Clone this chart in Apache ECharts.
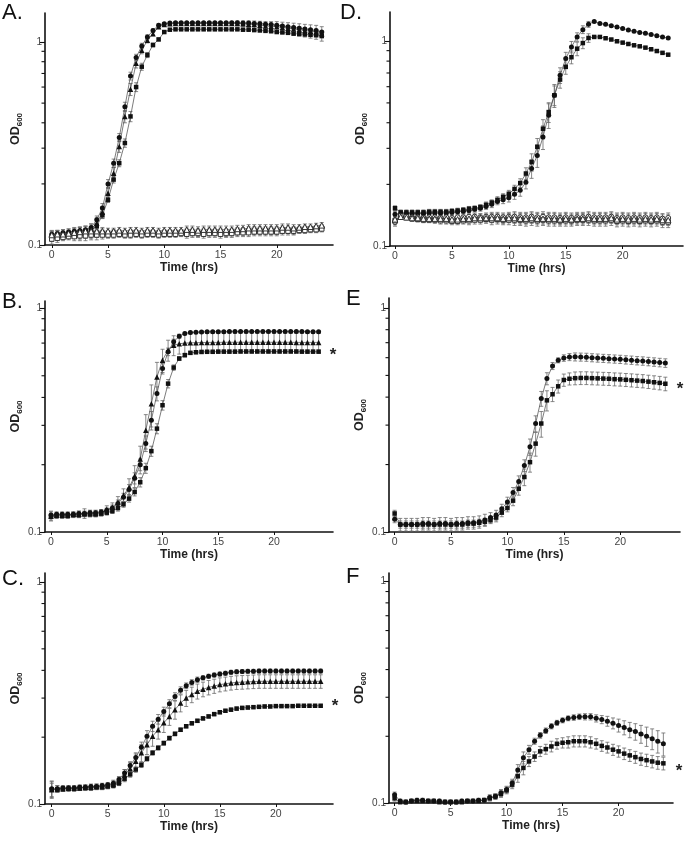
<!DOCTYPE html>
<html><head><meta charset="utf-8">
<script src="https://cdn.jsdelivr.net/npm/echarts@6/dist/echarts.min.js"></script>
<style>html,body{margin:0;padding:0;background:#fff}#c{width:685px;height:843px}</style>
</head><body><div id="c"></div>
<script>
// ---------------- DATA ----------------
const times = [0,0.5,1,1.5,2,2.5,3,3.5,4,4.5, 5,5.5,6,6.5,7,7.5,8,8.5,9,9.5, 10,10.5,11,11.5,12,12.5,13,13.5,14,14.5, 15,15.5,16,16.5,17,17.5,18,18.5,19,19.5, 20,20.5,21,21.5,22,22.5,23,23.5,24];
const xTickValues = [0,5,10,15,20];
const yLabelValues = [0.1,1];
const yMinorValues = [0.2,0.3,0.4,0.5,0.6,0.7,0.8,0.9];

// Panel A
const A_circ = [0.113,0.114,0.115,0.116,0.117,0.118,0.119,0.122,0.133,0.152, 0.200,0.253,0.339,0.480,0.680,0.840,0.956,1.06,1.14,1.21, 1.23,1.24,1.245,1.245,1.245,1.245,1.245,1.245,1.245,1.245, 1.245,1.245,1.245,1.245,1.24,1.24,1.235,1.23,1.225,1.22, 1.21,1.20,1.19,1.18,1.17,1.16,1.15,1.14,1.12];
const A_tri = [0.112,0.113,0.114,0.115,0.116,0.117,0.118,0.120,0.128,0.145, 0.180,0.226,0.306,0.430,0.585,0.785,0.910,1.02,1.10,1.19, 1.22,1.23,1.235,1.235,1.235,1.235,1.235,1.235,1.235,1.235, 1.235,1.235,1.235,1.235,1.23,1.225,1.22,1.21,1.20,1.195, 1.19,1.18,1.17,1.16,1.15,1.14,1.13,1.12,1.10];
const A_sq = [0.110,0.111,0.112,0.113,0.114,0.115,0.116,0.118,0.124,0.140, 0.167,0.210,0.253,0.318,0.430,0.600,0.756,0.863,0.967,1.03, 1.12,1.15,1.155,1.155,1.155,1.155,1.155,1.155,1.155,1.155, 1.155,1.155,1.155,1.155,1.15,1.15,1.145,1.14,1.135,1.13, 1.12,1.115,1.11,1.10,1.095,1.09,1.085,1.08,1.07];
const A_ocirc = [0.110,0.111,0.111,0.112,0.113,0.113,0.114,0.114,0.115,0.115, 0.114,0.115,0.115,0.114,0.115,0.115,0.114,0.115,0.115,0.114, 0.115,0.115,0.115,0.115,0.116,0.116,0.115,0.116,0.116,0.116, 0.116,0.115,0.116,0.117,0.117,0.118,0.118,0.118,0.118,0.118, 0.118,0.119,0.119,0.118,0.119,0.120,0.120,0.121,0.122];
const A_osq = [0.107,0.108,0.109,0.110,0.110,0.111,0.111,0.112,0.112,0.112, 0.112,0.112,0.113,0.112,0.112,0.113,0.112,0.113,0.113,0.112, 0.113,0.113,0.113,0.114,0.113,0.114,0.114,0.113,0.114,0.114, 0.113,0.114,0.114,0.115,0.115,0.115,0.116,0.116,0.116,0.116, 0.116,0.117,0.117,0.117,0.118,0.118,0.119,0.119,0.120];
const A_otri = [0.112,0.113,0.113,0.114,0.115,0.116,0.117,0.117,0.117,0.117, 0.117,0.117,0.118,0.117,0.118,0.118,0.117,0.118,0.118,0.117, 0.118,0.118,0.118,0.118,0.119,0.119,0.118,0.119,0.119,0.119, 0.119,0.119,0.119,0.120,0.120,0.121,0.121,0.121,0.121,0.121, 0.121,0.122,0.122,0.121,0.122,0.123,0.123,0.124,0.125];
const A_circ_err = [0.004,0.004,0.004,0.004,0.004,0.004,0.005,0.005,0.006,0.008, 0.010,0.012,0.015,0.025,0.030,0.030,0.030,0.025,0.020,0.020, 0.015,0.015,0.015,0.015,0.015,0.015,0.015,0.015,0.015,0.015, 0.015,0.015,0.015,0.015,0.015,0.015,0.015,0.015,0.015,0.015, 0.015,0.015,0.015,0.015,0.015,0.015,0.015,0.015,0.015];
const A_tri_err = [0.005,0.005,0.005,0.005,0.006,0.006,0.006,0.007,0.008,0.010, 0.012,0.015,0.020,0.030,0.040,0.040,0.035,0.030,0.025,0.020, 0.020,0.020,0.020,0.020,0.020,0.020,0.020,0.020,0.020,0.020, 0.020,0.025,0.030,0.035,0.040,0.045,0.050,0.055,0.060,0.065, 0.070,0.072,0.075,0.078,0.080,0.082,0.085,0.088,0.090];
const A_sq_err = [0.004,0.004,0.004,0.004,0.004,0.004,0.004,0.004,0.004,0.005, 0.005,0.008,0.010,0.015,0.025,0.030,0.030,0.025,0.020,0.015, 0.012,0.012,0.012,0.012,0.012,0.012,0.012,0.012,0.012,0.012, 0.012,0.012,0.012,0.012,0.012,0.012,0.012,0.012,0.012,0.012, 0.012,0.012,0.012,0.012,0.015,0.015,0.015,0.015,0.015];
const A_open_err = [0.006,0.005,0.004,0.004,0.005,0.006,0.006,0.006,0.006,0.005, 0.004,0.004,0.004,0.004,0.004,0.004,0.004,0.004,0.004,0.004, 0.004,0.004,0.004,0.004,0.005,0.005,0.005,0.005,0.005,0.005, 0.005,0.005,0.005,0.005,0.005,0.005,0.005,0.005,0.005,0.005, 0.005,0.005,0.005,0.005,0.004,0.004,0.004,0.004,0.004];

// Panel D
const D_circ = [0.143,0.144,0.144,0.144,0.144,0.144,0.145,0.145,0.145,0.145, 0.146,0.147,0.148,0.149,0.151,0.153,0.156,0.160,0.165,0.168, 0.172,0.179,0.187,0.205,0.239,0.277,0.341,0.435,0.545,0.682, 0.823,0.938,1.05,1.14,1.21,1.25,1.22,1.21,1.19,1.175, 1.153,1.135,1.12,1.105,1.095,1.08,1.065,1.05,1.038];
const D_sq = [0.153,0.146,0.146,0.146,0.146,0.146,0.147,0.147,0.147,0.147, 0.148,0.149,0.150,0.152,0.153,0.155,0.159,0.163,0.168,0.174, 0.180,0.190,0.203,0.226,0.257,0.305,0.374,0.451,0.545,0.650, 0.750,0.836,0.920,0.980,1.038,1.05,1.05,1.035,1.02,1.00, 0.985,0.97,0.956,0.945,0.931,0.914,0.896,0.878,0.86];
const D_ocirc = [0.131,0.139,0.139,0.138,0.138,0.137,0.138,0.138,0.137,0.138, 0.137,0.138,0.138,0.139,0.139,0.138,0.139,0.139,0.139,0.138, 0.139,0.139,0.138,0.138,0.139,0.138,0.139,0.138,0.138,0.137, 0.138,0.137,0.138,0.138,0.139,0.138,0.138,0.138,0.139,0.137, 0.138,0.137,0.138,0.137,0.138,0.137,0.138,0.136,0.137];
const D_osq = [0.133,0.140,0.139,0.136,0.135,0.134,0.134,0.134,0.133,0.133, 0.132,0.132,0.133,0.133,0.134,0.134,0.135,0.134,0.135,0.134, 0.134,0.134,0.134,0.133,0.134,0.133,0.134,0.133,0.133,0.133, 0.133,0.133,0.134,0.134,0.134,0.133,0.133,0.133,0.134,0.132, 0.133,0.132,0.133,0.132,0.133,0.132,0.133,0.131,0.131];
const D_otri = [0.135,0.139,0.138,0.137,0.137,0.136,0.136,0.136,0.136,0.136, 0.135,0.135,0.136,0.136,0.137,0.137,0.137,0.137,0.137,0.136, 0.137,0.137,0.136,0.136,0.137,0.136,0.136,0.136,0.136,0.135, 0.136,0.135,0.136,0.136,0.137,0.136,0.136,0.136,0.137,0.135, 0.136,0.135,0.136,0.135,0.136,0.135,0.136,0.134,0.134];
const D_circ_err = [0.004,0.004,0.004,0.004,0.004,0.004,0.004,0.004,0.004,0.004, 0.004,0.004,0.004,0.004,0.004,0.005,0.005,0.006,0.006,0.007, 0.008,0.010,0.012,0.015,0.025,0.035,0.045,0.060,0.070,0.060, 0.060,0.060,0.050,0.050,0.040,0.010,0.008,0.008,0.008,0.008, 0.008,0.008,0.008,0.008,0.008,0.008,0.008,0.008,0.008];
const D_sq_err = [0.004,0.004,0.004,0.004,0.004,0.004,0.004,0.004,0.004,0.004, 0.004,0.004,0.004,0.004,0.004,0.004,0.005,0.005,0.006,0.006, 0.007,0.008,0.010,0.015,0.025,0.030,0.040,0.050,0.060,0.060, 0.060,0.060,0.070,0.060,0.050,0.010,0.008,0.008,0.008,0.008, 0.008,0.008,0.008,0.008,0.008,0.008,0.008,0.008,0.008];
const D_open_err = [0.006,0.004,0.004,0.004,0.004,0.004,0.004,0.005,0.005,0.005, 0.005,0.005,0.005,0.006,0.006,0.006,0.006,0.007,0.007,0.007, 0.007,0.008,0.008,0.008,0.008,0.008,0.008,0.008,0.008,0.008, 0.008,0.008,0.008,0.008,0.008,0.008,0.008,0.008,0.008,0.008, 0.008,0.008,0.008,0.008,0.008,0.008,0.008,0.008,0.008];

// Panel B
const B_circ = [0.119,0.120,0.120,0.120,0.120,0.121,0.121,0.122,0.122,0.123, 0.125,0.128,0.134,0.143,0.155,0.174,0.200,0.249,0.316,0.416, 0.539,0.640,0.709,0.752,0.773,0.780,0.783,0.785,0.786,0.787, 0.787,0.787,0.788,0.788,0.788,0.788,0.788,0.789,0.789,0.789, 0.789,0.789,0.789,0.788,0.788,0.788,0.787,0.787,0.786];
const B_tri = [0.118,0.119,0.119,0.119,0.120,0.120,0.121,0.121,0.121,0.122, 0.126,0.129,0.136,0.146,0.158,0.178,0.212,0.285,0.375,0.494, 0.587,0.651,0.685,0.695,0.700,0.702,0.703,0.704,0.705,0.705, 0.705,0.706,0.706,0.706,0.706,0.706,0.706,0.706,0.706,0.706, 0.706,0.706,0.706,0.706,0.705,0.705,0.705,0.705,0.705];
const B_sq = [0.117,0.118,0.118,0.118,0.119,0.119,0.120,0.120,0.120,0.121, 0.122,0.124,0.128,0.133,0.141,0.151,0.167,0.193,0.230,0.290, 0.369,0.461,0.544,0.597,0.618,0.633,0.637,0.639,0.640,0.640, 0.641,0.641,0.641,0.641,0.642,0.642,0.642,0.642,0.642,0.642, 0.642,0.642,0.642,0.642,0.642,0.641,0.641,0.641,0.641];
const B_circ_err = [0.004,0.003,0.003,0.003,0.003,0.003,0.003,0.003,0.003,0.003, 0.003,0.004,0.005,0.006,0.008,0.010,0.012,0.020,0.030,0.030, 0.030,0.025,0.020,0.015,0.010,0.010,0.008,0.008,0.008,0.008, 0.008,0.008,0.008,0.008,0.008,0.008,0.008,0.008,0.008,0.008, 0.008,0.008,0.008,0.008,0.008,0.008,0.008,0.008,0.008];
const B_tri_err = [0.006,0.003,0.003,0.003,0.003,0.004,0.006,0.004,0.004,0.004, 0.005,0.006,0.008,0.010,0.015,0.020,0.030,0.050,0.080,0.080, 0.070,0.070,0.070,0.070,0.070,0.070,0.070,0.070,0.070,0.070, 0.070,0.070,0.070,0.070,0.070,0.070,0.070,0.070,0.070,0.070, 0.070,0.070,0.070,0.070,0.070,0.070,0.070,0.070,0.070];
const B_sq_err = [0.004,0.003,0.003,0.003,0.003,0.003,0.003,0.003,0.003,0.003, 0.003,0.003,0.004,0.004,0.005,0.006,0.008,0.010,0.012,0.015, 0.018,0.020,0.015,0.012,0.010,0.010,0.010,0.010,0.010,0.010, 0.010,0.010,0.010,0.010,0.010,0.010,0.010,0.010,0.010,0.010, 0.010,0.010,0.010,0.010,0.010,0.010,0.010,0.010,0.010];

// Panel E
const E_circ = [0.114,0.108,0.108,0.108,0.108,0.109,0.109,0.108,0.109,0.109, 0.108,0.109,0.109,0.110,0.110,0.111,0.113,0.116,0.119,0.127, 0.136,0.150,0.168,0.198,0.240,0.305,0.394,0.484,0.551,0.584, 0.598,0.604,0.605,0.604,0.603,0.600,0.598,0.596,0.594,0.592, 0.590,0.587,0.585,0.582,0.580,0.577,0.574,0.571,0.568];
const E_sq = [0.121,0.108,0.108,0.108,0.108,0.108,0.108,0.108,0.108,0.108, 0.108,0.108,0.108,0.109,0.109,0.110,0.111,0.113,0.116,0.122, 0.128,0.138,0.156,0.176,0.205,0.248,0.305,0.387,0.412,0.447, 0.477,0.483,0.486,0.487,0.487,0.486,0.485,0.484,0.483,0.481, 0.480,0.478,0.476,0.474,0.472,0.469,0.466,0.463,0.459];
const E_circ_err = [0.004,0.007,0.007,0.007,0.007,0.007,0.007,0.007,0.007,0.007, 0.007,0.007,0.007,0.007,0.007,0.007,0.007,0.006,0.006,0.006, 0.007,0.008,0.010,0.012,0.020,0.025,0.030,0.030,0.020,0.015, 0.020,0.022,0.025,0.025,0.025,0.025,0.025,0.025,0.025,0.025, 0.025,0.025,0.025,0.025,0.025,0.025,0.025,0.025,0.025];
const E_sq_err = [0.004,0.004,0.004,0.004,0.004,0.004,0.004,0.004,0.004,0.004, 0.004,0.004,0.004,0.004,0.004,0.004,0.004,0.004,0.005,0.005, 0.005,0.007,0.010,0.015,0.020,0.030,0.040,0.040,0.030,0.030, 0.030,0.030,0.032,0.032,0.032,0.032,0.032,0.032,0.032,0.032, 0.032,0.032,0.032,0.032,0.032,0.032,0.032,0.032,0.032];

// Panel C
const C_circ = [0.117,0.117,0.118,0.118,0.118,0.119,0.119,0.120,0.120,0.121, 0.122,0.124,0.129,0.138,0.149,0.162,0.180,0.202,0.224,0.241, 0.261,0.283,0.305,0.325,0.341,0.353,0.363,0.370,0.376,0.381, 0.385,0.388,0.392,0.394,0.395,0.396,0.396,0.397,0.397,0.397, 0.397,0.397,0.397,0.397,0.397,0.397,0.397,0.397,0.397];
const C_tri = [0.116,0.117,0.117,0.118,0.118,0.118,0.119,0.119,0.120,0.120, 0.121,0.123,0.127,0.135,0.144,0.156,0.170,0.185,0.202,0.216, 0.232,0.248,0.266,0.285,0.300,0.311,0.322,0.329,0.335,0.340, 0.345,0.348,0.351,0.353,0.354,0.355,0.356,0.357,0.357,0.357, 0.357,0.357,0.357,0.357,0.357,0.357,0.357,0.357,0.357];
const C_sq = [0.116,0.116,0.117,0.117,0.117,0.118,0.118,0.118,0.119,0.119, 0.120,0.121,0.124,0.130,0.136,0.143,0.150,0.160,0.170,0.179, 0.188,0.198,0.207,0.216,0.224,0.231,0.237,0.243,0.248,0.254, 0.259,0.263,0.266,0.269,0.271,0.272,0.273,0.274,0.275,0.275, 0.276,0.276,0.276,0.276,0.277,0.277,0.277,0.277,0.277];
const C_circ_err = [0.010,0.004,0.003,0.003,0.003,0.003,0.003,0.003,0.003,0.003, 0.003,0.004,0.004,0.005,0.006,0.008,0.010,0.012,0.012,0.012, 0.012,0.012,0.012,0.012,0.010,0.010,0.010,0.008,0.008,0.008, 0.008,0.008,0.008,0.008,0.008,0.008,0.008,0.008,0.008,0.008, 0.008,0.008,0.008,0.008,0.008,0.008,0.008,0.008,0.008];
const C_tri_err = [0.010,0.004,0.003,0.003,0.003,0.003,0.003,0.003,0.003,0.003, 0.003,0.004,0.005,0.008,0.010,0.012,0.015,0.018,0.020,0.020, 0.022,0.022,0.025,0.025,0.025,0.025,0.025,0.025,0.025,0.025, 0.025,0.025,0.025,0.025,0.025,0.025,0.025,0.025,0.025,0.025, 0.025,0.025,0.025,0.025,0.025,0.025,0.025,0.025,0.025];
const C_sq_err = [0.008,0.003,0.003,0.003,0.003,0.003,0.003,0.003,0.003,0.003, 0.003,0.003,0.003,0.004,0.004,0.004,0.004,0.004,0.004,0.004, 0.004,0.004,0.004,0.004,0.004,0.004,0.004,0.004,0.004,0.004, 0.004,0.004,0.004,0.004,0.004,0.004,0.004,0.004,0.004,0.004, 0.004,0.004,0.004,0.004,0.004,0.004,0.004,0.004,0.004];

// Panel F
const F_circ = [0.109,0.102,0.101,0.102,0.103,0.103,0.102,0.102,0.102,0.101, 0.101,0.101,0.102,0.102,0.102,0.103,0.103,0.106,0.107,0.111, 0.115,0.123,0.141,0.160,0.174,0.190,0.202,0.212,0.222,0.230, 0.236,0.241,0.243,0.245,0.245,0.245,0.241,0.238,0.234,0.229, 0.224,0.219,0.214,0.210,0.205,0.200,0.195,0.190,0.185];
const F_sq = [0.105,0.101,0.101,0.102,0.102,0.102,0.102,0.102,0.101,0.101, 0.101,0.101,0.101,0.102,0.102,0.102,0.103,0.105,0.107,0.110, 0.114,0.121,0.132,0.144,0.154,0.162,0.171,0.175,0.180,0.185, 0.187,0.188,0.190,0.190,0.190,0.188,0.185,0.181,0.178,0.174, 0.171,0.167,0.164,0.161,0.158,0.156,0.154,0.152,0.151];
const F_circ_err = [0.003,0.002,0.002,0.002,0.002,0.002,0.002,0.002,0.002,0.002, 0.002,0.002,0.002,0.002,0.002,0.002,0.002,0.003,0.003,0.004, 0.004,0.005,0.008,0.010,0.008,0.006,0.006,0.006,0.006,0.006, 0.006,0.006,0.007,0.007,0.008,0.008,0.009,0.010,0.012,0.013, 0.015,0.016,0.017,0.018,0.019,0.020,0.021,0.022,0.022];
const F_sq_err = [0.003,0.002,0.002,0.002,0.002,0.002,0.002,0.002,0.002,0.002, 0.002,0.002,0.002,0.002,0.002,0.002,0.002,0.003,0.003,0.004, 0.004,0.005,0.008,0.010,0.008,0.008,0.009,0.009,0.010,0.010, 0.010,0.011,0.011,0.011,0.011,0.011,0.010,0.010,0.010,0.010, 0.010,0.010,0.010,0.010,0.010,0.010,0.010,0.010,0.010];

// ---------------- LAYOUT ----------------
const FONT = '"Liberation Sans", Arial, sans-serif';
const panels = [
  {label:'A.', lx:2, ly:13, left:45, top:13, width:288, height:232, xMin:-0.6, xMax:25, yMax:1.39, star:null,
   series:[[A_circ,A_circ_err,'circle',false],[A_tri,A_tri_err,'triangle',false],[A_sq,A_sq_err,'rect',false],
           [A_ocirc,A_open_err,'circle',true],[A_osq,A_open_err,'rect',true],[A_otri,A_open_err,'triangle',true]]},
  {label:'D.', lx:340, ly:13, left:390, top:12, width:293, height:234, xMin:-0.44, xMax:25.3, yMax:1.39, star:null,
   series:[[D_circ,D_circ_err,'circle',false],[D_sq,D_sq_err,'rect',false],
           [D_ocirc,D_open_err,'circle',true],[D_osq,D_open_err,'rect',true],[D_otri,D_open_err,'triangle',true]]},
  {label:'B.', lx:2, ly:302, left:45, top:301, width:288, height:231, xMin:-0.54, xMax:25.29, yMax:1.08, star:[333,355],
   series:[[B_circ,B_circ_err,'circle',false],[B_tri,B_tri_err,'triangle',false],[B_sq,B_sq_err,'rect',false]]},
  {label:'E', lx:346, ly:299, left:389, top:298, width:291, height:234, xMin:-0.5, xMax:25.3, yMax:1.108, star:[680,389],
   series:[[E_circ,E_circ_err,'circle',false],[E_sq,E_sq_err,'rect',false]]},
  {label:'C.', lx:2, ly:579, left:45, top:573, width:288, height:231, xMin:-0.6, xMax:25.1, yMax:1.098, star:[335,706],
   series:[[C_circ,C_circ_err,'circle',false],[C_tri,C_tri_err,'triangle',false],[C_sq,C_sq_err,'rect',false]]},
  {label:'F', lx:346, ly:577, left:389, top:573, width:284, height:230, xMin:-0.5, xMax:24.86, yMax:1.091, star:[679,771],
   series:[[F_circ,F_circ_err,'circle',false],[F_sq,F_sq_err,'rect',false]]}
];

function errRender(params, api) {
  const x = api.value(0), lo = api.value(1), hi = api.value(2);
  const t = api.coord([x, hi]), b = api.coord([x, lo]);
  const cw = 2;
  const st = {stroke:'#6a6a6a', lineWidth:0.8};
  return {type:'group', children:[
    {type:'line', shape:{x1:t[0], y1:t[1], x2:b[0], y2:b[1]}, style:st},
    {type:'line', shape:{x1:t[0]-cw, y1:t[1], x2:t[0]+cw, y2:t[1]}, style:st},
    {type:'line', shape:{x1:b[0]-cw, y1:b[1], x2:b[0]+cw, y2:b[1]}, style:st}
  ]};
}

const grids = [], xAxes = [], yAxes = [], series = [], graphics = [];
panels.forEach((p, gi) => {
  grids.push({left:p.left, top:p.top, width:p.width, height:p.height, containLabel:false});
  xAxes.push({
    type:'value', gridIndex:gi, min:p.xMin, max:p.xMax,
    name:'Time (hrs)', nameLocation:'middle', nameGap:17,
    nameTextStyle:{fontFamily:FONT, fontSize:12, fontWeight:'bold', color:'#222'},
    axisLine:{show:true, onZero:false, lineStyle:{color:'#111', width:1.6}},
    axisTick:{show:true, length:3, customValues:xTickValues, lineStyle:{color:'#111', width:1}},
    axisLabel:{customValues:xTickValues, fontFamily:FONT, fontSize:10.5, color:'#444', margin:5},
    splitLine:{show:false}
  });
  yAxes.push({
    type:'log', logBase:10, gridIndex:gi, position:'left', min:0.1, max:p.yMax,
    name:'{a|OD}{b|600}', nameLocation:'middle', nameGap:21, nameRotate:90,
    nameTextStyle:{rich:{
      a:{fontFamily:FONT, fontSize:12.5, fontWeight:'bold', color:'#222', verticalAlign:'bottom', padding:[0,0,2,0]},
      b:{fontFamily:FONT, fontSize:8, fontWeight:'bold', color:'#222', verticalAlign:'bottom'}
    }},
    axisLine:{show:true, onZero:false, lineStyle:{color:'#111', width:1.6}},
    axisTick:{show:true, length:5, customValues:yLabelValues, lineStyle:{color:'#111', width:1.1}},
    axisLabel:{customValues:yLabelValues, fontFamily:FONT, fontSize:10, color:'#444', margin:3,
      formatter:v => (v < 0.5 ? '0.1' : '1')},
    splitLine:{show:false}
  });
  p.series.forEach(([vals, errs]) => {
    series.push({
      type:'custom', xAxisIndex:gi, yAxisIndex:gi, renderItem:errRender, silent:true, z:2,
      encode:{x:0, y:[1,2]},
      data:times.map((t,i)=>[t, vals[i]-errs[i], vals[i]+errs[i]])
    });
  });
  p.series.forEach(([vals, errs, sym, open]) => {
    series.push({
      type:'line', xAxisIndex:gi, yAxisIndex:gi, z:3, silent:true,
      data:times.map((t,i)=>[t, vals[i]]),
      symbol:sym, symbolSize: sym==='triangle' ? 5.5 : (sym==='rect' ? 4.5 : 5),
      showSymbol:true,
      lineStyle:{color:'#444', width:0.7},
      itemStyle: open ? {color:'#fff', borderColor:'#222', borderWidth:0.9} : {color:'#111', borderWidth:0},
      emphasis:{disabled:true}
    });
  });
  graphics.push({type:'text', x:p.lx, y:p.ly, silent:true,
    style:{text:p.label, font:'22px ' + FONT, fill:'#111', textVerticalAlign:'middle', textAlign:'left'}});
  if (p.star) graphics.push({type:'text', x:p.star[0], y:p.star[1], silent:true,
    style:{text:'*', font:'bold 17px ' + FONT, fill:'#222', textVerticalAlign:'middle', textAlign:'center'}});
});

const chart = echarts.init(document.getElementById('c'), null, {renderer:'canvas'});
chart.setOption({
  animation:false,
  backgroundColor:'#fff',
  grid:grids, xAxis:xAxes, yAxis:yAxes, series:series, graphic:graphics
});

// minor ticks 0.2 ... 0.9: vertical position from each panel's log y axis scale
panels.forEach((p, gi) => {
  yMinorValues.forEach(v => {
    const y = chart.convertToPixel({yAxisIndex: gi}, v);
    if (typeof y === 'number' && isFinite(y)) {
      graphics.push({type:'line', silent:true, z:50,
        shape:{x1:p.left - 3.5, y1:y, x2:p.left, y2:y},
        style:{stroke:'#111', lineWidth:1.1}});
    }
  });
});
chart.setOption({graphic:graphics});
</script></body></html>
